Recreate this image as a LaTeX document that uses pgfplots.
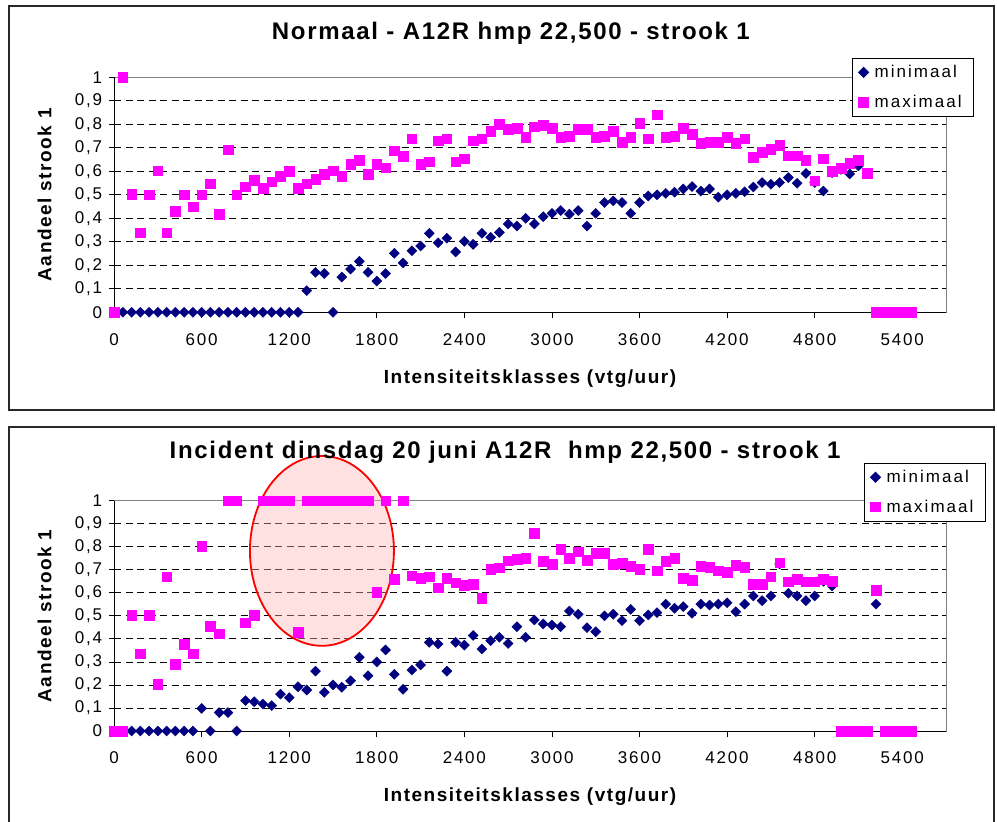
\documentclass[border=0pt]{standalone}
\usepackage{pgfplots}
\usepackage{pgfplotstable}
\pgfplotsset{compat=1.18}
\usepackage{fontspec}
\setmainfont{Liberation Sans}
\newfontfamily\tickf[LetterSpace=10.5]{Liberation Sans}
\newfontfamily\titf[LetterSpace=7]{Liberation Sans}
\newfontfamily\labf[LetterSpace=8]{Liberation Sans}
\newfontfamily\legf[LetterSpace=12]{Liberation Sans}
\definecolor{navyc}{RGB}{0,0,128}
\definecolor{magc}{RGB}{255,0,255}
\definecolor{framec}{RGB}{40,40,40}
\definecolor{borderc}{RGB}{128,128,128}

\pgfplotstableread{
x minT maxT minB maxB
0 0 0 0 0
60 0 1 0 0
120 0 0.502 0 0.502
180 0 0.338 0 0.336
240 0 0.50 0 0.502
300 0 0.603 0 0.204
360 0 0.338 0 0.67
420 0 0.431 0 0.289
480 0 0.50 0 0.376
540 0 0.45 0 0.336
600 0 0.50 0.098 0.803
660 0 0.548 0 0.456
720 0 0.417 0.08 0.423
780 0 0.692 0.08 1
840 0 0.50 0 1
900 0 0.535 0.132 0.47
960 0 0.563 0.127 0.502
1020 0 0.528 0.117 1
1080 0 0.555 0.11 1
1140 0 0.58 0.16 1
1200 0 0.60 0.145 1
1260 0 0.528 0.192 0.43
1320 0.092 0.548 0.178 1
1380 0.17 0.567 0.26 1
1440 0.165 0.587 0.168 1
1500 0 0.603 0.20 1
1560 0.15 0.58 0.19 1
1620 0.184 0.63 0.218 1
1680 0.217 0.648 0.32 1
1740 0.17 0.587 0.24 1
1800 0.133 0.63 0.30 0.602
1860 0.165 0.615 0.352 1
1920 0.251 0.688 0.246 0.658
1980 0.21 0.665 0.181 1
2040 0.262 0.738 0.265 0.674
2100 0.282 0.631 0.287 0.663
2160 0.336 0.64 0.385 0.67
2220 0.296 0.73 0.378 0.622
2280 0.315 0.738 0.26 0.663
2340 0.257 0.64 0.385 0.644
2400 0.302 0.654 0.373 0.632
2460 0.289 0.73 0.415 0.637
2520 0.336 0.738 0.356 0.576
2580 0.319 0.77 0.392 0.702
2640 0.34 0.80 0.407 0.709
2700 0.376 0.779 0.38 0.74
2760 0.367 0.784 0.453 0.747
2820 0.40 0.745 0.407 0.75
2880 0.376 0.79 0.482 0.858
2940 0.407 0.797 0.465 0.738
3000 0.421 0.784 0.46 0.724
3060 0.433 0.745 0.453 0.79
3120 0.418 0.75 0.521 0.75
3180 0.433 0.779 0.507 0.778
3240 0.367 0.779 0.449 0.742
3300 0.421 0.745 0.431 0.771
3360 0.467 0.75 0.50 0.771
3420 0.474 0.77 0.507 0.724
3480 0.467 0.725 0.479 0.728
3540 0.421 0.745 0.528 0.716
3600 0.467 0.804 0.479 0.703
3660 0.495 0.738 0.504 0.79
3720 0.50 0.84 0.514 0.696
3780 0.506 0.745 0.551 0.738
3840 0.511 0.75 0.533 0.75
3900 0.525 0.784 0.54 0.663
3960 0.535 0.759 0.511 0.656
4020 0.516 0.72 0.551 0.716
4080 0.525 0.725 0.547 0.71
4140 0.49 0.725 0.551 0.696
4200 0.50 0.745 0.557 0.689
4260 0.506 0.72 0.518 0.72
4320 0.513 0.738 0.551 0.71
4380 0.533 0.66 0.586 0.637
4440 0.552 0.68 0.566 0.637
4500 0.545 0.694 0.586 0.67
4560 0.552 0.712 0.725 0.731
4620 0.573 0.667 0.598 0.648
4680 0.549 0.667 0.586 0.658
4740 0.591 0.648 0.566 0.648
4800 0.552 0.56 0.586 0.648
4860 0.516 0.654 0.65 0.658
4920 0.594 0.60 0.63 0.651
4980 0.608 0.613 nan 0
5040 0.589 0.634 nan 0
5100 0.623 0.648 nan 0
5160 0.589 0.591 nan 0
5220 nan 0 0.551 0.612
5280 nan 0 nan 0
5340 nan 0 nan 0
5400 nan 0 nan 0
5460 nan 0 nan 0
}\datatable

\pgfplotsset{
  excelaxis/.style={
    scale only axis,
    width=831.9bp,
    xmin=0, xmax=5700, ymin=0, ymax=1,
    xtick={0,600,1200,1800,2400,3000,3600,4200,4800,5400},
    ytick={0,0.1,0.2,0.3,0.4,0.5,0.6,0.7,0.8,0.9,1},
    xtick pos=bottom, ytick pos=left,
    tick align=outside,
    major tick length=5.5bp,
    tick style={black, line width=0.8bp},
    axis line style={draw=borderc, line width=0.8bp},
    ymajorgrids,
    major grid style={black, line width=0.8bp, dash pattern=on 7bp off 4.5bp},
    /pgf/number format/assume math mode=true,
    xticklabel style={font=\tickf\fontsize{17bp}{20bp}\selectfont, yshift=-12bp,
      /pgf/number format/1000 sep={}},
    yticklabel style={font=\tickf\fontsize{17bp}{20bp}\selectfont, xshift=-3bp,
      /pgf/number format/.cd, fixed, use comma, precision=1, 1000 sep={}},
    ylabel={Aandeel strook 1},
    ylabel style={at={(axis description cs:-0.0837,0.5)}, anchor=center, rotate=0,
      font=\labf\bfseries\fontsize{19bp}{22bp}\selectfont},
    xlabel={Intensiteitsklasses (vtg/uur)},
    xlabel style={anchor=base, font=\labf\bfseries\fontsize{19bp}{22bp}\selectfont},
    title style={anchor=base, font=\titf\bfseries\fontsize{24bp}{28bp}\selectfont},
    legend style={anchor=north east, draw=black, line width=0.8bp, fill=white,
      font=\legf\fontsize{17bp}{20bp}\selectfont, inner xsep=6bp, inner ysep=5bp,
      row sep=12bp, nodes={inner xsep=6bp}},
    legend cell align=left,
    clip=false,
  },
  minstyle/.style={only marks, color=navyc, mark=square*, mark size=3.55bp,
    mark options={rotate=45, fill=navyc, draw=none}},
  maxstyle/.style={only marks, color=magc, mark=square*, mark size=4.8bp,
    mark options={fill=magc, draw=none}},
}

\begin{document}
\begin{tikzpicture}
\useasboundingbox (0,0) rectangle (997bp,822bp);
\fill[white] (0,0) rectangle (997bp,822bp);
% panel frames
\draw[framec, line width=1.3bp] (9bp,412bp) rectangle (994bp,816bp);
\draw[framec, line width=1.3bp] (9bp,-5bp) -- (9bp,395bp) -- (994bp,395bp) -- (994bp,-5bp);

% top panel
\begin{axis}[excelaxis,
  at={(114.1bp,509.7bp)}, anchor=south west, height=235bp,
  title={Normaal - A12R hmp 22,500 - strook 1},
  title style={at={(axis description cs:0.477,1.1374)}},
  xlabel style={at={(axis description cs:0.5,-0.302)}},
  legend style={at={(1.0337,1.082)}},
]
\draw[borderc, line width=0.8bp] (rel axis cs:0,1) -- (rel axis cs:1,1) -- (rel axis cs:1,0);
\draw[black, line width=0.9bp] (rel axis cs:0,1) -- (rel axis cs:0,0) -- (rel axis cs:1,0);
\addplot[minstyle] table[x=x, y=minT] {\datatable};
\addlegendentry{minimaal}
\addplot[maxstyle] table[x=x, y=maxT] {\datatable};
\addlegendentry{maximaal}
\end{axis}

% bottom panel
\begin{axis}[excelaxis,
  at={(114.1bp,91bp)}, anchor=south west, height=230.3bp,
  title={Incident dinsdag 20 juni A12R\ \ hmp 22,500 - strook 1},
  title style={at={(axis description cs:0.47,1.158)}},
  xlabel style={at={(axis description cs:0.5,-0.308)}},
  legend style={at={(1.048,1.1637)}},
]
\draw[borderc, line width=0.8bp] (rel axis cs:0,1) -- (rel axis cs:1,1) -- (rel axis cs:1,0);
\draw[black, line width=0.9bp] (rel axis cs:0,1) -- (rel axis cs:0,0) -- (rel axis cs:1,0);
\draw[red, line width=1.8bp, fill={rgb,255:red,255;green,180;blue,180}, fill opacity=0.4]
  (axis cs:1424,0.782) ellipse [x radius=72bp, y radius=94.9bp];
\addplot[minstyle] table[x=x, y=minB] {\datatable};
\addlegendentry{minimaal}
\addplot[maxstyle] table[x=x, y=maxB] {\datatable};
\addlegendentry{maximaal}
\end{axis}
\end{tikzpicture}
\end{document}
